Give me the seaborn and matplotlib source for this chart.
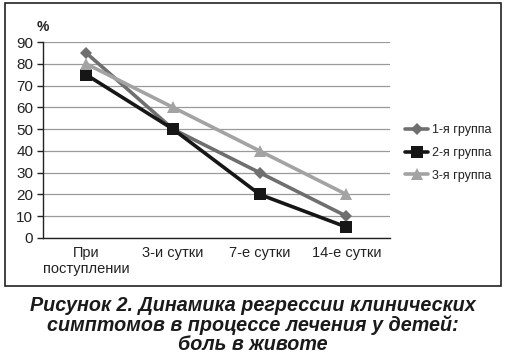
import pandas as pd
import matplotlib
matplotlib.use("Agg")
import matplotlib.pyplot as plt
import seaborn as sns
from matplotlib.patches import Rectangle

sns.set_theme(style="white")
plt.rcParams["font.family"] = ["Liberation Sans", "DejaVu Sans"]

stages = ["При\nпоступлении", "3-и сутки", "7-е сутки", "14-е сутки"]
groups = ["1-я группа", "2-я группа", "3-я группа"]
group1 = [85, 50, 30, 10]
group2 = [75, 50, 20, 5]
group3 = [80, 60, 40, 20]

rows = []
for g, vals in zip(groups, [group1, group2, group3]):
    for s, v in zip(stages, vals):
        rows.append({"stage": s, "group": g, "value": v})
df = pd.DataFrame(rows)

palette = {groups[0]: "#6f6f6f", groups[1]: "#161616", groups[2]: "#a3a3a3"}
markers = {groups[0]: "D", groups[1]: "s", groups[2]: "^"}
msizes = {groups[0]: 6, groups[1]: 8, groups[2]: 8}

fig = plt.figure(figsize=(5.05, 3.6), dpi=100)
ax = fig.add_axes([0.085, 0.339, 0.687, 0.544])

for g in groups:
    sns.lineplot(data=df[df["group"] == g], x="stage", y="value", color=palette[g],
                 marker=markers[g], markersize=msizes[g], markeredgewidth=0,
                 linewidth=2.6, label=g, ax=ax, sort=False)

ax.set_xlim(-0.5, 3.5)
ax.set_ylim(0, 90)
ax.set_yticks(range(0, 91, 10))
ax.set_xticks(range(4))
ax.set_xticklabels(stages, fontsize=10.5, color="#222222")
ax.set_xticks([-0.5, 0.5, 1.5, 2.5, 3.5], minor=True)
ax.tick_params(axis="x", which="major", length=0, pad=6)
ax.tick_params(axis="x", which="minor", length=5, width=1, color="#222222", direction="out")
ax.tick_params(axis="y", length=4, width=1, color="#222222", labelsize=11,
               labelcolor="#222222", pad=3, left=True)
ax.yaxis.grid(True, color="#9a9a9a", linewidth=0.9)
ax.set_axisbelow(True)
for side in ["top", "right"]:
    ax.spines[side].set_visible(False)
for side in ["left", "bottom"]:
    ax.spines[side].set_color("#222222")
    ax.spines[side].set_linewidth(1)
ax.set_xlabel("")
ax.set_ylabel("")
ax.text(0, 1.04, "%", transform=ax.transAxes, ha="center", va="bottom",
        fontsize=10, fontweight="bold", color="#222222")

leg = ax.legend(loc="center left", bbox_to_anchor=(1.012, 0.434), frameon=False,
                fontsize=9, handlelength=1.8, handletextpad=0.3, labelspacing=0.85)
for t in leg.get_texts():
    t.set_color("#222222")

fig.patches.append(Rectangle((5 / 505, 1 - 286 / 360), 496 / 505, 283 / 360,
                             transform=fig.transFigure, fill=False,
                             edgecolor="#222222", linewidth=1.2))

fig.text(0.5, 1 - 325 / 360,
         "Рисунок 2. Динамика регрессии клинических\nсимптомов в процессе лечения у детей:\nболь в животе",
         ha="center", va="center", fontsize=14.2, fontweight="bold", fontstyle="italic",
         linespacing=1.0, color="#1a1a1a")

fig.savefig("out.png", dpi=100)
